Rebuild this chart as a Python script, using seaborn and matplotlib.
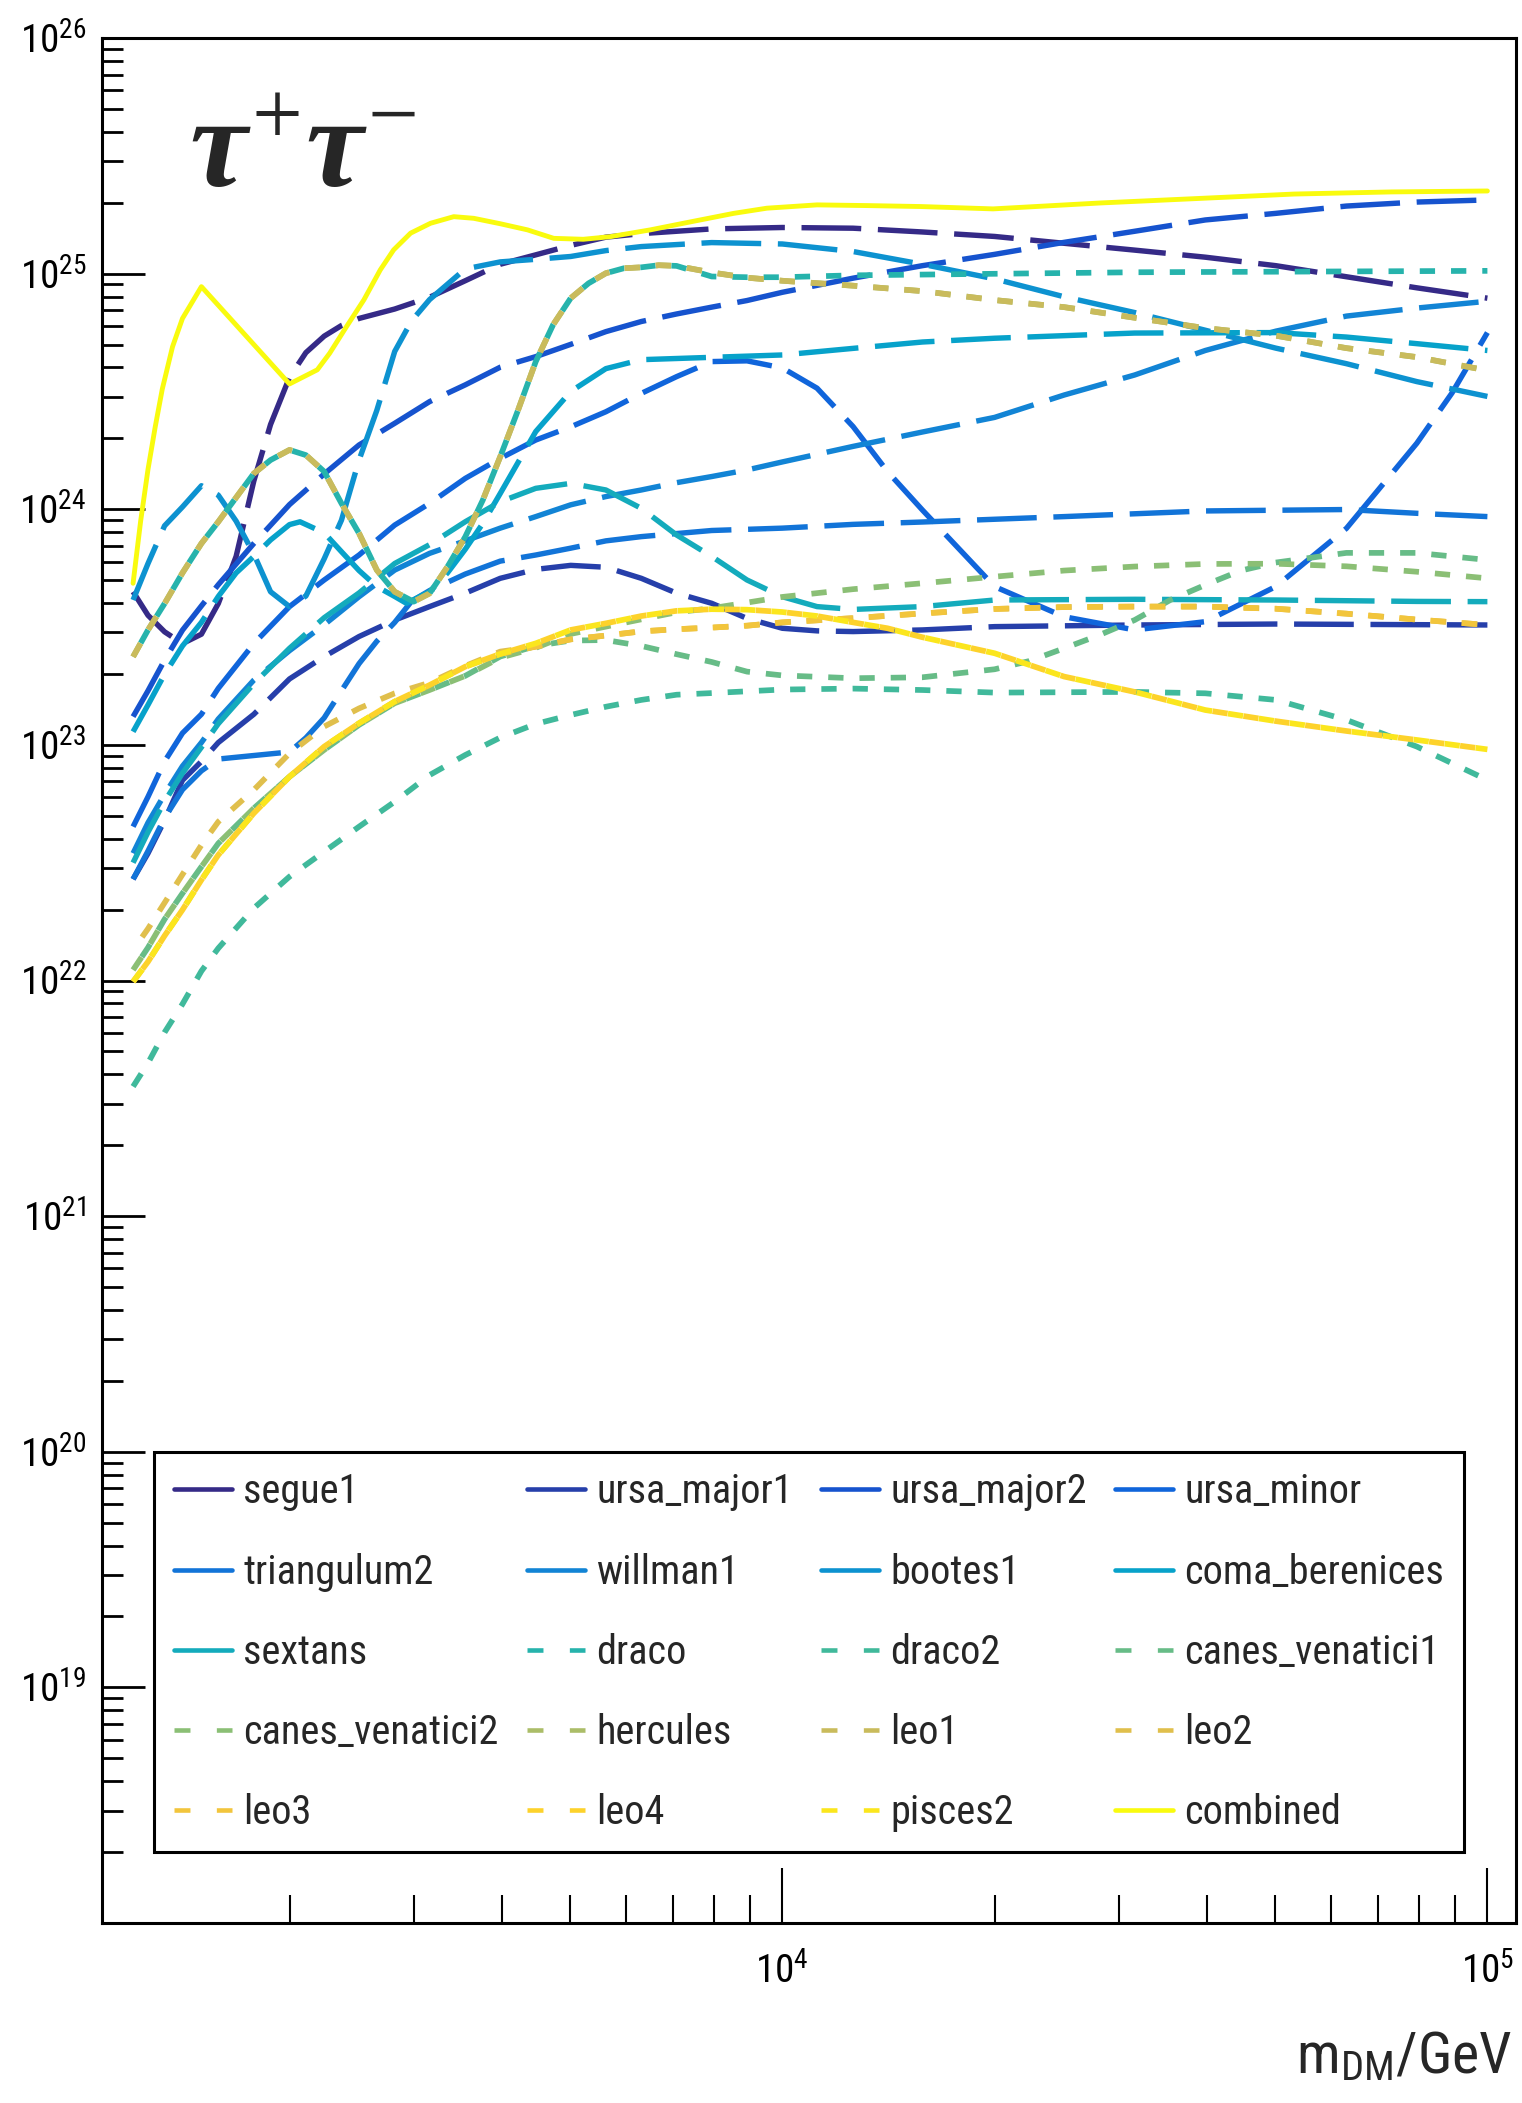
import os
import matplotlib
matplotlib.use("Agg")
import numpy as np
import pandas as pd
import seaborn as sns
import matplotlib.pyplot as plt
from matplotlib import ticker
from matplotlib.lines import Line2D
from matplotlib.colors import LinearSegmentedColormap
from matplotlib import font_manager as fm
from matplotlib.textpath import TextPath

# ---------------- data: dark-matter mass [GeV], limit given as log10 ----------------
segue1_m = [1200, 1260, 1330, 1410, 1500, 1585, 1680, 1780, 1880, 2000, 2110, 2240, 2370, 2510, 2820, 3160, 3550,
            3980, 4470, 5010, 5620, 6310, 7940, 10000, 12600, 15800, 20000, 25100, 31600, 39800, 50100, 63100,
            79400, 100000]
segue1_e = [23.65, 23.55, 23.48, 23.43, 23.47, 23.60, 23.80, 24.12, 24.36, 24.56, 24.665, 24.735, 24.78, 24.81,
            24.85, 24.90, 24.97, 25.04, 25.08, 25.12, 25.155, 25.17, 25.19, 25.196, 25.193, 25.177, 25.158, 25.129,
            25.10, 25.07, 25.034, 24.987, 24.94, 24.896]

ursa_major1_m = [1200, 1260, 1330, 1410, 1500, 1585, 1780, 2000, 2240, 2510, 2820, 3160, 3550, 3980, 4470, 5010,
                 5620, 6310, 7080, 7940, 8910, 10000, 11200, 12600, 15800, 20000, 31600, 50100, 100000]
ursa_major1_e = [22.43, 22.54, 22.68, 22.85, 22.93, 23.01, 23.13, 23.28, 23.375, 23.46, 23.53, 23.587, 23.644,
                 23.707, 23.745, 23.762, 23.754, 23.707, 23.644, 23.601, 23.537, 23.495, 23.484, 23.481, 23.488,
                 23.502, 23.509, 23.513, 23.509]

ursa_major2_m = [1200, 1260, 1330, 1410, 1500, 1585, 1780, 2000, 2240, 2510, 2820, 3160, 3550, 3980, 4470, 5010,
                 5620, 6310, 7080, 7940, 8910, 10000, 12600, 15800, 20000, 25100, 31600, 39800, 50100, 63100,
                 79400, 100000]
ursa_major2_e = [23.12, 23.23, 23.36, 23.487, 23.59, 23.68, 23.855, 24.02, 24.15, 24.273, 24.365, 24.457, 24.528,
                 24.603, 24.648, 24.70, 24.754, 24.797, 24.829, 24.858, 24.886, 24.921, 24.981, 25.034, 25.082,
                 25.133, 25.18, 25.228, 25.256, 25.287, 25.304, 25.313]

ursa_minor_m = [1200, 1260, 1330, 1410, 1500, 1585, 1780, 2000, 2240, 2510, 2820, 3160, 3550, 3980, 4470, 5010,
                5620, 6310, 7080, 7940, 8910, 10000, 11200, 12600, 14100, 15800, 20000, 25100, 31600, 39800,
                50100, 63100, 79400, 89100, 100000]
ursa_minor_e = [22.653, 22.78, 22.93, 23.05, 23.13, 23.24, 23.43, 23.587, 23.70, 23.806, 23.933, 24.025, 24.131,
                24.216, 24.294, 24.35, 24.414, 24.492, 24.563, 24.627, 24.63, 24.60, 24.514, 24.351, 24.16,
                23.997, 23.672, 23.544, 23.488, 23.523, 23.672, 23.919, 24.28, 24.494, 24.75]

triangulum2_m = [1200, 1260, 1330, 1410, 1500, 1585, 1780, 2000, 2110, 2240, 2370, 2510, 2660, 2820, 2980, 3160,
                 3550, 3980, 4470, 5010, 5620, 6310, 7940, 10000, 12600, 15800, 25100, 39800, 63100, 79400, 100000]
triangulum2_e = [22.43, 22.55, 22.69, 22.81, 22.89, 22.94, 22.955, 22.97, 23.03, 23.115, 23.23, 23.345, 23.44,
                 23.52, 23.61, 23.655, 23.725, 23.78, 23.806, 23.835, 23.866, 23.884, 23.91, 23.92, 23.936,
                 23.946, 23.969, 23.993, 23.999, 23.983, 23.969]

willman1_m = [1200, 1260, 1330, 1410, 1500, 1585, 1780, 2000, 2240, 2510, 2820, 3160, 3550, 3980, 4470, 5010,
              5620, 6310, 7080, 7940, 8910, 10000, 12600, 15800, 20000, 25100, 31600, 39800, 50100, 63100,
              79400, 100000]
willman1_e = [22.54, 22.67, 22.79, 22.91, 23.01, 23.11, 23.275, 23.40, 23.51, 23.629, 23.742, 23.813, 23.866,
              23.92, 23.969, 24.019, 24.054, 24.082, 24.113, 24.139, 24.167, 24.201, 24.267, 24.328, 24.39,
              24.485, 24.57, 24.674, 24.756, 24.82, 24.854, 24.883]

bootes1_m = [1200, 1260, 1330, 1410, 1500, 1585, 1680, 1780, 1880, 2000, 2110, 2240, 2370, 2510, 2660, 2820, 2980,
             3160, 3550, 3980, 4470, 5010, 5620, 6310, 7940, 10000, 12600, 15800, 20000, 25100, 31600, 39800,
             50100, 63100, 79400, 100000]
bootes1_e = [23.615, 23.77, 23.93, 24.01, 24.10, 24.06, 23.95, 23.81, 23.65, 23.587, 23.632, 23.79, 23.954,
             24.209, 24.42, 24.67, 24.80, 24.89, 25.02, 25.05, 25.061, 25.073, 25.098, 25.115, 25.132, 25.126,
             25.094, 25.04, 24.978, 24.902, 24.835, 24.76, 24.684, 24.618, 24.542, 24.479]

coma_berenices_m = [1200, 1260, 1330, 1410, 1500, 1585, 1680, 1780, 1880, 2000, 2070, 2240, 2370, 2510, 2660,
                    2820, 2930, 3160, 3350, 3550, 3760, 3980, 4470, 5010, 5620, 6310, 7080, 7940, 10000, 12600,
                    15800, 20000, 31600, 50100, 63100, 79400, 100000]
coma_berenices_e = [23.056, 23.17, 23.30, 23.42, 23.52, 23.63, 23.73, 23.80, 23.87, 23.935, 23.947, 23.90, 23.82,
                    23.74, 23.672, 23.63, 23.601, 23.65, 23.73, 23.83, 23.94, 24.067, 24.33, 24.50, 24.597,
                    24.635, 24.64, 24.645, 24.655, 24.683, 24.71, 24.726, 24.748, 24.75, 24.731, 24.703, 24.674]

sextans_m = [1200, 1260, 1330, 1410, 1500, 1585, 1780, 2000, 2240, 2510, 2820, 3160, 3550, 3980, 4470, 5010, 5620,
             6310, 7080, 7940, 8910, 10000, 11200, 12600, 15800, 20000, 31600, 50100, 79400, 100000]
sextans_e = [22.50, 22.63, 22.76, 22.88, 22.99, 23.09, 23.26, 23.41, 23.54, 23.645, 23.77, 23.85, 23.947, 24.032,
             24.089, 24.11, 24.082, 24.004, 23.891, 23.80, 23.70, 23.629, 23.587, 23.575, 23.587, 23.615, 23.618,
             23.615, 23.609, 23.608]

draco_m = [1200, 1260, 1330, 1410, 1500, 1585, 1680, 1780, 1880, 2000, 2110, 2240, 2370, 2510, 2660, 2820, 3000,
           3160, 3350, 3550, 3760, 3980, 4220, 4470, 4730, 5010, 5310, 5620, 5960, 6310, 6680, 7080, 7940, 8910,
           10000, 12600, 31600, 100000]
draco_e = [23.374, 23.488, 23.60, 23.73, 23.855, 23.947, 24.05, 24.152, 24.209, 24.252, 24.23, 24.16, 24.025,
           23.898, 23.742, 23.65, 23.608, 23.643, 23.756, 23.883, 24.039, 24.223, 24.422, 24.627, 24.783, 24.896,
           24.959, 25.002, 25.023, 25.027, 25.036, 25.033, 24.988, 24.985, 24.985, 24.993, 25.006, 25.012]

draco2_m = [1200, 1260, 1330, 1410, 1500, 1585, 1780, 2000, 2240, 2510, 2820, 3160, 3550, 3980, 4470, 5010, 5620,
            6310, 7080, 7940, 10000, 12600, 15800, 20000, 31600, 39800, 50100, 63100, 79400, 100000]
draco2_e = [21.55, 21.65, 21.78, 21.90, 22.04, 22.137, 22.307, 22.441, 22.547, 22.653, 22.759, 22.872, 22.957,
            23.031, 23.089, 23.127, 23.162, 23.191, 23.213, 23.22, 23.235, 23.239, 23.233, 23.222, 23.225, 23.219,
            23.191, 23.106, 22.993, 22.851]

canes_venatici1_m = [1200, 1260, 1330, 1410, 1500, 1585, 1780, 2000, 2240, 2510, 2820, 3160, 3550, 3980, 4470,
                     5010, 5620, 6310, 7080, 7940, 8910, 10000, 12600, 15800, 20000, 22400, 25100, 28200, 31600,
                     35500, 39800, 44700, 50100, 63100, 79400, 100000]
canes_venatici1_e = [22.045, 22.14, 22.26, 22.37, 22.483, 22.582, 22.731, 22.865, 22.979, 23.085, 23.177, 23.233,
                     23.293, 23.375, 23.42, 23.443, 23.445, 23.42, 23.385, 23.352, 23.311, 23.295, 23.283, 23.287,
                     23.321, 23.356, 23.41, 23.467, 23.53, 23.615, 23.679, 23.74, 23.774, 23.815, 23.815, 23.785]

canes_venatici2_m = [1200, 1260, 1330, 1410, 1500, 1585, 1780, 2000, 2240, 2510, 2820, 3160, 3550, 3980, 4470,
                     5010, 5620, 6310, 7080, 7940, 8910, 10000, 12600, 15800, 20000, 25100, 31600, 39800, 50100,
                     63100, 79400, 100000]
canes_venatici2_e = [22.045, 22.14, 22.26, 22.37, 22.483, 22.582, 22.731, 22.865, 22.979, 23.085, 23.177, 23.233,
                     23.293, 23.37, 23.412, 23.471, 23.502, 23.533, 23.563, 23.58, 23.604, 23.628, 23.661, 23.686,
                     23.714, 23.74, 23.757, 23.768, 23.769, 23.758, 23.735, 23.707]

leo1_m = [1200, 1260, 1330, 1410, 1500, 1585, 1680, 1780, 1880, 2000, 2110, 2240, 2370, 2510, 2660, 2820, 3000,
          3160, 3350, 3550, 3760, 3980, 4220, 4470, 4730, 5010, 5310, 5620, 5960, 6310, 6680, 7080, 7940, 8910,
          10000, 12600, 15800, 20000, 25100, 31600, 39800, 50100, 63100, 79400, 100000]
leo1_e = [23.374, 23.488, 23.60, 23.73, 23.855, 23.947, 24.05, 24.152, 24.209, 24.252, 24.23, 24.16, 24.025,
          23.898, 23.742, 23.65, 23.608, 23.643, 23.756, 23.883, 24.039, 24.223, 24.422, 24.627, 24.783, 24.896,
          24.959, 25.002, 25.023, 25.027, 25.036, 25.033, 25.005, 24.983, 24.97, 24.949, 24.926, 24.888, 24.858,
          24.813, 24.769, 24.737, 24.684, 24.646, 24.589]

# hercules lies underneath leo1 in the picture
hercules_m = list(leo1_m)
hercules_e = list(leo1_e)

leo2_m = [1200, 1260, 1330, 1410, 1500, 1585, 1780, 2000, 2240, 2510, 2820, 3160, 3550, 3980, 4470, 5010, 5620,
          6310, 7080, 7940, 8910, 10000, 12600, 15800, 20000, 25100, 31600, 39800, 50100, 63100, 79400, 100000]
leo2_e = [22.13, 22.22, 22.33, 22.45, 22.575, 22.674, 22.809, 22.964, 23.078, 23.155, 23.219, 23.264, 23.335,
          23.396, 23.417, 23.448, 23.464, 23.482, 23.491, 23.498, 23.506, 23.52, 23.538, 23.558, 23.577, 23.585,
          23.587, 23.587, 23.578, 23.557, 23.532, 23.509]

leo3_m = list(leo2_m)
leo3_e = [21.995, 22.08, 22.19, 22.30, 22.427, 22.533, 22.71, 22.865, 22.993, 23.092, 23.184, 23.254, 23.332,
          23.386, 23.417, 23.448, 23.464, 23.482, 23.491, 23.498, 23.506, 23.52, 23.538, 23.558, 23.577, 23.585,
          23.587, 23.587, 23.578, 23.557, 23.532, 23.509]

pisces2_m = [1200, 1260, 1330, 1410, 1500, 1585, 1780, 2000, 2240, 2510, 2820, 3160, 3550, 3980, 4470, 5010, 5620,
             6310, 7080, 7940, 8910, 10000, 11200, 12600, 14100, 15800, 20000, 25100, 31600, 39800, 50100, 63100,
             79400, 100000]
pisces2_e = [21.995, 22.08, 22.19, 22.30, 22.427, 22.533, 22.71, 22.865, 22.993, 23.092, 23.184, 23.254, 23.332,
             23.386, 23.431, 23.488, 23.516, 23.547, 23.569, 23.576, 23.574, 23.564, 23.547, 23.52, 23.495, 23.457,
             23.389, 23.29, 23.225, 23.148, 23.101, 23.059, 23.021, 22.981]

# leo4 lies underneath pisces2 in the picture
leo4_m = list(pisces2_m)
leo4_e = list(pisces2_e)

combined_m = [1200, 1230, 1260, 1290, 1320, 1365, 1410, 1500, 2000, 2190, 2280, 2410, 2550, 2690, 2810, 2970, 3170,
              3420, 3650, 3980, 4350, 4740, 5220, 5700, 6500, 7240, 8530, 9510, 11200, 13200, 15700, 19900, 28200,
              38800, 53200, 73100, 100000]
combined_e = [23.686, 23.95, 24.17, 24.35, 24.51, 24.69, 24.81, 24.945, 24.532, 24.592, 24.662, 24.776, 24.889,
              25.016, 25.101, 25.172, 25.214, 25.242, 25.235, 25.212, 25.186, 25.15, 25.146, 25.157, 25.186, 25.214,
              25.256, 25.278, 25.292, 25.289, 25.285, 25.275, 25.30, 25.319, 25.338, 25.347, 25.351]

names = ["segue1", "ursa_major1", "ursa_major2", "ursa_minor", "triangulum2", "willman1", "bootes1",
         "coma_berenices", "sextans", "draco", "draco2", "canes_venatici1", "canes_venatici2", "hercules",
         "leo1", "leo2", "leo3", "leo4", "pisces2", "combined"]
series = [(segue1_m, segue1_e), (ursa_major1_m, ursa_major1_e), (ursa_major2_m, ursa_major2_e),
          (ursa_minor_m, ursa_minor_e), (triangulum2_m, triangulum2_e), (willman1_m, willman1_e),
          (bootes1_m, bootes1_e), (coma_berenices_m, coma_berenices_e), (sextans_m, sextans_e),
          (draco_m, draco_e), (draco2_m, draco2_e), (canes_venatici1_m, canes_venatici1_e),
          (canes_venatici2_m, canes_venatici2_e), (hercules_m, hercules_e), (leo1_m, leo1_e),
          (leo2_m, leo2_e), (leo3_m, leo3_e), (leo4_m, leo4_e), (pisces2_m, pisces2_e),
          (combined_m, combined_e)]

y_tick_decades = [19, 20, 21, 22, 23, 24, 25, 26]
x_tick_decades = [4, 5]

# ---------------- style ----------------
sns.set_theme(style="white")
PX = 100 / 72.0  # pixels per point at dpi 100


def _pick_font():
    cands = [("Liberation Sans Narrow", "normal"), ("Roboto Condensed", "normal"),
             ("Open Sans Condensed", "normal"), ("Noto Sans", "condensed"), ("DejaVu Sans", "condensed"),
             ("Roboto", "condensed"), ("Open Sans", "condensed")]
    for fam, st in cands:
        try:
            path = fm.findfont(fm.FontProperties(family=fam, stretch=st), fallback_to_default=False)
        except Exception:
            continue
        base = os.path.basename(path).lower()
        if st == "normal" or "condensed" in base or "narrow" in base:
            return fam, st
    return "Liberation Sans", "normal"


FAM, STRETCH = _pick_font()


def _ink_width_pt(s, size=100.0):
    prop = fm.FontProperties(family=FAM, stretch=STRETCH)
    return TextPath((0, 0), s, size=size, prop=prop).get_extents().width


TICK_FS = 0.98 * 100.0 * (34.0 / PX) / _ink_width_pt("10")
LEG_FS = 0.955 * 100.0 * (111.0 / PX) / _ink_width_pt("segue1")
XLAB_FS = 0.86 * 100.0 * (104.0 / PX) / _ink_width_pt("GeV")

plt.rcParams.update({
    "font.family": [FAM, "DejaVu Sans"],
    "font.stretch": STRETCH,
    "mathtext.fontset": "custom",
    "mathtext.rm": "Liberation Serif",
    "mathtext.it": "Liberation Serif:italic:bold",
    "mathtext.bf": "Liberation Serif:bold",
    "lines.scale_dashes": False,
    "axes.edgecolor": "black",
    "axes.linewidth": 2.2,
    "xtick.color": "black",
    "ytick.color": "black",
    "axes.facecolor": "white",
    "figure.facecolor": "white",
    "axes.grid": False,
})

# ROOT "bird" palette
bird = LinearSegmentedColormap.from_list("bird", list(zip(
    [0.2082, 0.0592, 0.0780, 0.0232, 0.1802, 0.5301, 0.8186, 0.9956, 0.9764],
    [0.1664, 0.3599, 0.5041, 0.6419, 0.7178, 0.7492, 0.7328, 0.7862, 0.9832],
    [0.5293, 0.8684, 0.8385, 0.7914, 0.6425, 0.4662, 0.3499, 0.1968, 0.0539])))
n = len(names)
colors = [bird(i / (n - 1)) for i in range(n)]

LONG = (0, (43, 12))
SHORT_PAT = (11, 11.5)
phase_shift = {"draco", "canes_venatici1", "leo2", "leo4"}

frames = []
for name, (m, e) in zip(names, series):
    assert len(m) == len(e), name
    frames.append(pd.DataFrame({"name": name, "mass": np.asarray(m, float),
                                "limit": 10.0 ** np.asarray(e, float)}))
df = pd.concat(frames, ignore_index=True)

fig = plt.figure(figsize=(15.22, 21.03), dpi=100)
ax = fig.add_axes([0.0668, 0.0856, 0.9290, 0.8963])
ax.set_xscale("log")
ax.set_yscale("log")

for i, name in enumerate(names):
    d = df[df["name"] == name]
    if i < 9:
        ls, lw = LONG, 3.9
    elif i < 19:
        ls, lw = ((11.25 if name in phase_shift else 0), SHORT_PAT), 4.1
    else:
        ls, lw = "-", 3.5
    sns.lineplot(data=d, x="mass", y="limit", ax=ax, color=colors[i], linewidth=lw,
                 linestyle=ls, sort=False, estimator=None, legend=False, zorder=2 + i)

ax.set_xlim(1083, 1.0965e5)
ax.set_ylim(1e18, 1e26)
ax.set_xlabel("")
ax.set_ylabel("")

ax.yaxis.set_major_locator(ticker.FixedLocator([10.0 ** k for k in y_tick_decades]))
ax.yaxis.set_major_formatter(ticker.LogFormatterSciNotation())
ax.yaxis.set_minor_locator(ticker.LogLocator(base=10, subs=np.arange(2, 10), numticks=100))
ax.yaxis.set_minor_formatter(ticker.NullFormatter())
ax.xaxis.set_major_locator(ticker.FixedLocator([10.0 ** k for k in x_tick_decades]))
ax.xaxis.set_major_formatter(ticker.LogFormatterSciNotation())
ax.xaxis.set_minor_locator(ticker.LogLocator(base=10, subs=np.arange(2, 10), numticks=100))
ax.xaxis.set_minor_formatter(ticker.NullFormatter())

ax.tick_params(axis="y", which="major", direction="in", length=30.7, width=2.0, left=True, right=False,
               labelsize=TICK_FS, pad=11)
ax.tick_params(axis="y", which="minor", direction="in", length=15, width=2.0, left=True, right=False)
ax.tick_params(axis="x", which="major", direction="in", length=39.5, width=1.5, bottom=True, top=False,
               labelsize=TICK_FS, pad=21)
ax.tick_params(axis="x", which="minor", direction="in", length=20, width=1.5, bottom=True, top=False)
for sp in ax.spines.values():
    sp.set_visible(True)
    sp.set_color("black")
    sp.set_linewidth(2.2)

# legend (row-major order as in the reference, matplotlib fills column-major)
handles = []
for i, name in enumerate(names):
    hs = "-" if (i < 9 or i == 19) else (0, (11.5, 19))
    handles.append(Line2D([], [], color=colors[i], linewidth=3.3, linestyle=hs))
nrow, ncol = 5, 4
order = [(k % nrow) * ncol + k // nrow for k in range(nrow * ncol)]
fs_px = LEG_FS * PX


def _make_legend(ls_, bp_):
    lg = ax.legend([handles[k] for k in order], [names[k] for k in order], ncol=ncol, loc="lower left",
                   bbox_to_anchor=(0.037, 0.0374, 0.9265, 0.2122), mode="expand", borderaxespad=0,
                   frameon=True, fancybox=False, shadow=False, framealpha=1, edgecolor="black",
                   fontsize=LEG_FS, handlelength=42 / LEG_FS, handletextpad=8 / LEG_FS,
                   columnspacing=0.5, labelspacing=ls_, borderpad=bp_)
    lg.get_frame().set_linewidth(2.2)
    lg.set_zorder(50)
    return lg


ls0, bp0 = 0.8, 0.4
leg = _make_legend(ls0, bp0)
fig.canvas.draw()
h_px = leg.get_window_extent().height
row_h = (h_px - 2 * bp0 * fs_px - 4 * ls0 * fs_px) / 5.0
ls1 = max(0.05, (80.3 - row_h) / fs_px)
bp1 = max(0.05, (39.5 - row_h / 2.0) / fs_px)
leg.remove()
leg = _make_legend(ls1, bp1)

# title and axis label
fig.text(0.1242, 0.911, r"$\tau^{+}\tau^{-}$", fontsize=93, ha="left", va="baseline")
fig.text(0.9935, 0.0143, r"m$_{\mathregular{DM}}$/GeV", fontsize=XLAB_FS, ha="right", va="baseline")

fig.savefig("out.png", dpi=100)
